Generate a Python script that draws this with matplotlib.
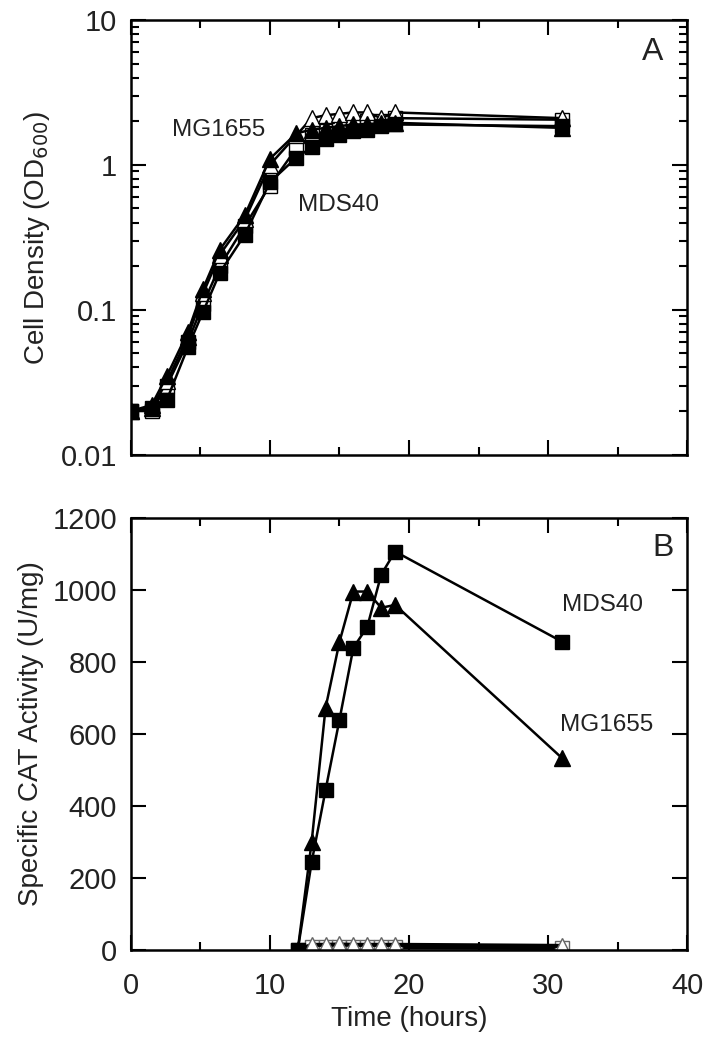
import matplotlib.pyplot as plt
from matplotlib.ticker import MultipleLocator, LogLocator, NullFormatter, FixedLocator

plt.rcParams['font.family'] = ['Liberation Sans', 'DejaVu Sans']

# panel A - growth curves
time_a = [0, 1.5, 2.6, 4.1, 5.2, 6.4, 8.2, 10, 11.9, 13, 14, 15, 16, 17, 18, 19, 31]
mg1655_a = [0.02, 0.022, 0.035, 0.07, 0.14, 0.26, 0.45, 1.1, 1.65, 1.75, 1.8, 1.85, 1.9, 1.9, 1.95, 1.95, 1.8]
mds40_a = [0.02, 0.021, 0.024, 0.055, 0.097, 0.18, 0.33, 0.76, 1.12, 1.32, 1.5, 1.6, 1.7, 1.75, 1.85, 1.9, 1.85]
mg1655_ctrl_a = [0.02, 0.021, 0.032, 0.065, 0.13, 0.24, 0.42, 1.0, 1.6, 2.1, 2.2, 2.25, 2.3, 2.3, 2.1, 2.3, 2.1]
mds40_ctrl_a = [0.02, 0.02, 0.03, 0.06, 0.11, 0.2, 0.38, 0.72, 1.3, 1.6, 1.7, 1.8, 1.9, 2.0, 2.0, 2.1, 2.05]

# panel B - CAT activity
time_b = [12, 13, 14, 15, 16, 17, 18, 19, 31]
mg1655_b = [0, 300, 672, 855, 995, 995, 950, 958, 533]
mds40_b = [0, 244, 444, 639, 839, 897, 1042, 1106, 856]
mg1655_ctrl_b = [0, 15, 15, 16, 15, 15, 15, 15, 12]
mds40_ctrl_b = [0, 8, 8, 8, 8, 8, 8, 8, 6]

fig = plt.figure(figsize=(7.07, 10.5), dpi=100)
axA = fig.add_axes([0.185, 0.567, 0.787, 0.414])
axB = fig.add_axes([0.185, 0.095, 0.787, 0.412])

txt = '#222222'
ms = 10
lw = 1.8

# open symbols first, filled on top
axA.plot(time_a, mds40_ctrl_a, '-s', color='black', mfc='white', mec='black', ms=ms, lw=lw, mew=1)
axA.plot(time_a, mg1655_ctrl_a, '-^', color='black', mfc='white', mec='black', ms=ms + 1, lw=lw, mew=1)
axA.plot(time_a, mds40_a, '-s', color='black', mfc='black', ms=ms, lw=lw)
axA.plot(time_a, mg1655_a, '-^', color='black', mfc='black', ms=ms + 1, lw=lw)

axA.set_yscale('log')
axA.set_ylim(0.01, 10)
axA.set_xlim(0, 40)
axA.set_ylabel('Cell Density (OD$_{600}$)', fontsize=20, color=txt, labelpad=6)
axA.yaxis.set_major_locator(FixedLocator([0.01, 0.1, 1, 10]))
axA.set_yticklabels(['0.01', '0.1', '1', '10'])
axA.yaxis.set_minor_locator(LogLocator(base=10, subs=range(2, 10)))
axA.yaxis.set_minor_formatter(NullFormatter())
axA.set_xticklabels([])
axA.text(6.3, 1.74, 'MG1655', fontsize=17.5, color=txt, ha='center', va='center')
axA.text(14.9, 0.53, 'MDS40', fontsize=17.5, color=txt, ha='center', va='center')
axA.text(37.5, 6.0, 'A', fontsize=23, color=txt, ha='center', va='center')

axB.plot(time_b, mds40_ctrl_b, '-s', color='black', mfc='white', mec='#666666', ms=ms, lw=3, mew=1)
axB.plot(time_b, mg1655_ctrl_b, '-^', color='black', mfc='white', mec='#666666', ms=ms + 1, lw=3, mew=1)
axB.plot(time_b, mds40_b, '-s', color='black', mfc='black', ms=ms, lw=lw)
axB.plot(time_b, mg1655_b, '-^', color='black', mfc='black', ms=ms + 1, lw=lw)

axB.set_xlim(0, 40)
axB.set_ylim(0, 1200)
axB.yaxis.set_major_locator(MultipleLocator(200))
axB.set_xlabel('Time (hours)', fontsize=20, color=txt, labelpad=4)
axB.set_ylabel('Specific CAT Activity (U/mg)', fontsize=20, color=txt, labelpad=6)
axB.text(38.3, 1117, 'B', fontsize=23, color=txt, ha='center', va='center')
axB.text(33.9, 958, 'MDS40', fontsize=17.5, color=txt, ha='center', va='center')
axB.text(34.2, 625, 'MG1655', fontsize=17.5, color=txt, ha='center', va='center')

for ax in (axA, axB):
    ax.xaxis.set_major_locator(MultipleLocator(10))
    ax.xaxis.set_minor_locator(MultipleLocator(5))
    ax.tick_params(which='both', direction='in', top=True, right=True, width=1.5,
                   labelsize=21, labelcolor=txt)
    ax.tick_params(which='major', length=11)
    ax.tick_params(which='minor', length=6)
    ax.tick_params(axis='y', pad=10)
    ax.tick_params(axis='x', pad=16)
    for s in ax.spines.values():
        s.set_linewidth(1.8)

fig.savefig('out.png', dpi=100)
